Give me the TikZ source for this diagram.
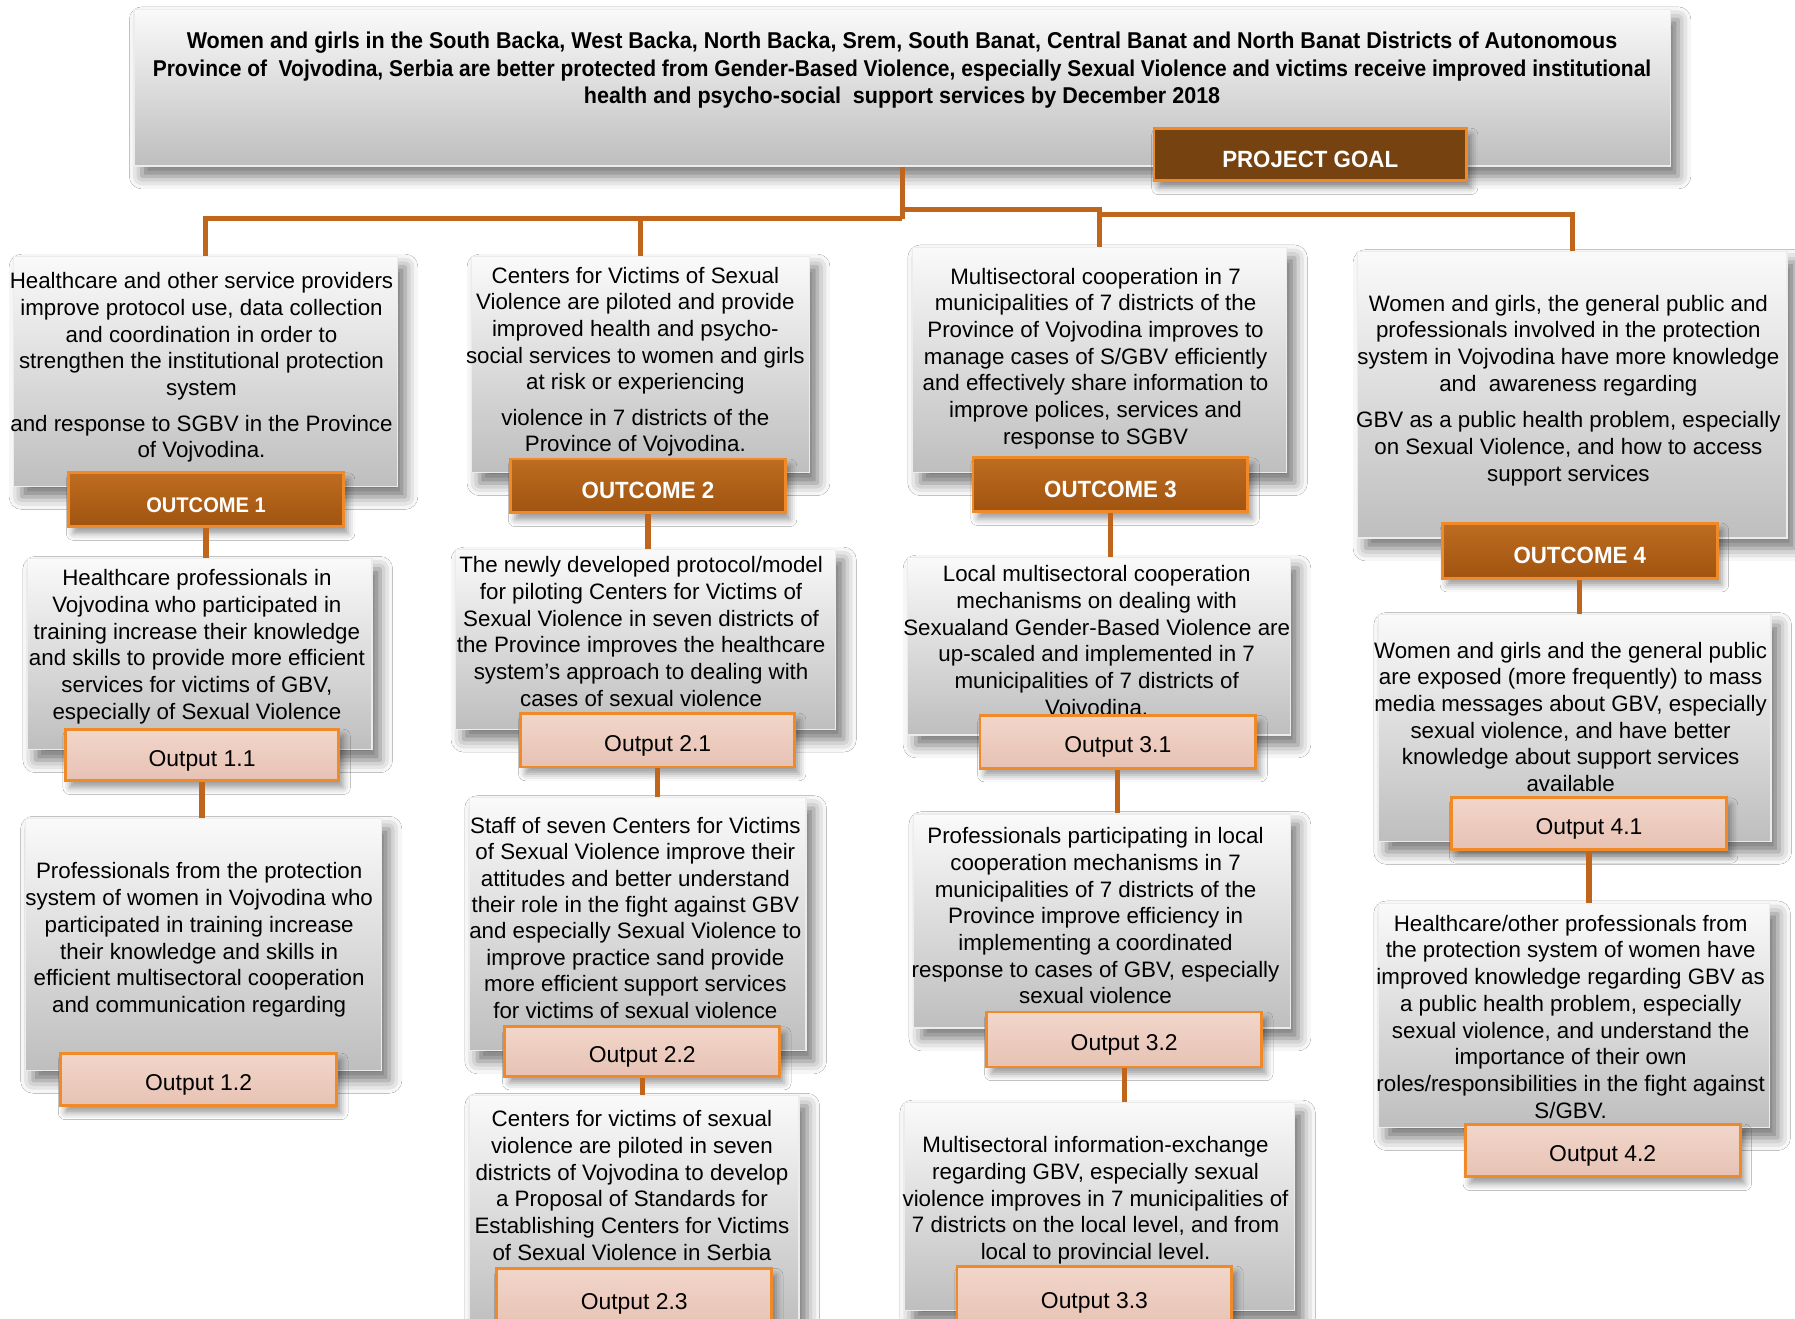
\documentclass[tikz,border=0pt]{standalone}
\usepackage{fontspec}
\setmainfont{Liberation Sans}
\newfontfamily\condb[FakeStretch=0.94]{Liberation Sans}
\newfontfamily\labfont[FakeStretch=0.95]{Liberation Sans}
\usetikzlibrary{shadows.blur}
\definecolor{conn}{RGB}{192,102,28}
\definecolor{edgeor}{RGB}{240,138,40}
\definecolor{boxtop}{RGB}{250,250,250}
\definecolor{boxbot}{RGB}{190,190,190}
\definecolor{outtop}{RGB}{190,108,32}
\definecolor{outbot}{RGB}{160,84,16}
\definecolor{goalfill}{RGB}{118,66,16}
\definecolor{optop}{RGB}{242,214,202}
\definecolor{opbot}{RGB}{230,194,180}
\tikzset{
  box/.style={rectangle, inner sep=0pt, draw={rgb,255:red,236;green,236;blue,236}, line width=1pt,
    top color=boxtop, bottom color=boxbot,
    blur shadow={shadow xshift=7pt, shadow yshift=-9pt, shadow blur radius=11pt, shadow opacity=55}},
  txt/.style={inner sep=0pt, align=center, font=\fontsize{19.5}{23.3}\selectfont,
    execute at begin node=\strut, execute at end node=\strut},
  outcomelab/.style={rectangle, inner sep=0pt, minimum width=240pt, minimum height=47pt,
    text height=22pt, text depth=0pt,
    draw=edgeor, line width=2.5pt, top color=outtop, bottom color=outbot, text=white,
    font=\labfont\bfseries\fontsize{20.5}{24}\selectfont,
    blur shadow={shadow xshift=4pt, shadow yshift=-6pt, shadow blur radius=6pt, shadow opacity=40}},
  goallab/.style={rectangle, inner sep=0pt, minimum width=273pt, minimum height=46pt,
    text height=22pt, text depth=0pt,
    draw=edgeor, line width=2.5pt, fill=goalfill, text=white,
    font=\labfont\bfseries\fontsize{20.5}{24}\selectfont,
    blur shadow={shadow xshift=4pt, shadow yshift=-6pt, shadow blur radius=6pt, shadow opacity=40}},
  outputlab/.style={rectangle, inner sep=0pt, minimum width=240pt, minimum height=46pt,
    text height=19.5pt, text depth=0pt,
    draw=edgeor, line width=2.5pt, top color=optop, bottom color=opbot, text=black,
    font=\fontsize{20}{24}\selectfont,
    blur shadow={shadow xshift=4pt, shadow yshift=-6pt, shadow blur radius=6pt, shadow opacity=40}},
  link/.style={draw=conn, line width=4.5pt}
}
\begin{document}
\begin{tikzpicture}[x=1pt,y=-1pt]
\fill[white] (0,0) rectangle (1568,1152);
\clip (0,0) rectangle (1568,1152);
\useasboundingbox (0,0) rectangle (1568,1152);

% ---------- goal ----------
\node[box, minimum width=1342pt, minimum height=137pt] (goal) at (788,76.5) {};
\node[inner sep=0pt, align=center, font=\condb\bfseries\fontsize{20}{24}\selectfont,
  execute at begin node=\strut, execute at end node=\strut] (goaltxt) at (788,63)
  {Women and girls in the South Backa, West Backa, North Backa, Srem, South Banat, Central Banat and North Banat Districts of Autonomous\\
   \scalebox{0.975}[1]{Province of \ Vojvodina, Serbia are better protected from Gender-Based Violence, especially Sexual Violence and victims receive improved institutional}\\
   health and psycho-social \ support services by December 2018};
\node[goallab] (goallbl) at (1144.5,135) {PROJECT GOAL};

% ---------- outcome boxes ----------
\node[box, minimum width=335pt, minimum height=201pt] (oc1) at (179.5,324.5) {};
\node[txt] (oc1t) at (176,322.5) {Healthcare and other service providers\\improve protocol use, data collection\\and coordination in order to\\strengthen the institutional protection\\system\\[7.7pt]and response to SGBV in the Province\\of Vojvodina.};
\node[outcomelab, font=\labfont\bfseries\fontsize{18.5}{24}\selectfont] (oc1l) at (180,436.5) {OUTCOME 1};

\node[box, minimum width=295pt, minimum height=189pt] (oc2) at (559.5,318.5) {};
\node[txt] (oc2t) at (555,317.5) {Centers for Victims of Sexual\\Violence are piloted and provide\\improved health and psycho-\\social services to women and girls\\at risk or experiencing\\[7.7pt]violence in 7 districts of the\\Province of Vojvodina.};
\node[outcomelab] (oc2l) at (566,424.5) {OUTCOME 2};

\node[box, minimum width=327pt, minimum height=197pt] (oc3) at (960.5,314.5) {};
\node[txt] (oc3t) at (957,314.5) {Multisectoral cooperation in 7\\municipalities of 7 districts of the\\Province of Vojvodina improves to\\manage cases of S/GBV efficiently\\and effectively share information to\\improve polices, services and\\response to SGBV};
\node[outcomelab] (oc3l) at (970,423.5) {OUTCOME 3};

\node[box, minimum width=375pt, minimum height=250pt] (oc4) at (1373.5,345) {};
\node[txt] (oc4t) at (1370,342.5) {Women and girls, the general public and\\professionals involved in the protection\\system in Vojvodina have more knowledge\\and \ awareness regarding\\[8.7pt]GBV as a public health problem, especially\\on Sexual Violence, and how to access\\support services};
\node[outcomelab, minimum height=48pt] (oc4l) at (1380,481) {OUTCOME 4};

% ---------- outputs column 1 ----------
\node[box, minimum width=301pt, minimum height=167pt] (op11) at (174.5,571.5) {};
\node[txt] (op11t) at (172,566.5) {Healthcare professionals in\\Vojvodina who participated in\\training increase their knowledge\\and skills to provide more efficient\\services for victims of GBV,\\especially of Sexual Violence};
\node[outputlab, minimum width=239pt, minimum height=45pt] (op11l) at (176.5,659.5) {Output 1.1};

\node[box, minimum width=311pt, minimum height=220pt] (op12) at (177.5,825) {};
\node[txt] (op12t) at (174,822.5) {Professionals from the protection\\system of women in Vojvodina who\\participated in training increase\\their knowledge and skills in\\efficient multisectoral cooperation\\and communication regarding};
\node[outputlab, minimum width=241pt] (op12l) at (173.5,943) {Output 1.2};

% ---------- outputs column 2 ----------
\node[box, minimum width=332pt, minimum height=157pt] (op21) at (564,558.5) {};
\node[txt] (op21t) at (560,555) {The newly developed protocol/model\\for piloting Centers for Victims of\\Sexual Violence in seven districts of\\the Province improves the healthcare\\system’s approach to dealing with\\cases of sexual violence};
\node[outputlab, minimum width=239pt, minimum height=47pt] (op21l) at (574.5,646.5) {Output 2.1};

\node[box, minimum width=294pt, minimum height=221pt] (op22) at (557,807.5) {};
\node[txt, font=\fontsize{19.5}{23.1}\selectfont] (op22t) at (555,805) {Staff of seven Centers for Victims\\of Sexual Violence improve their\\attitudes and better understand\\their role in the fight against GBV\\and especially Sexual Violence to\\improve practice sand provide\\more efficient support services\\for victims of sexual violence};
\node[outputlab, minimum height=43pt] (op22l) at (561,918.5) {Output 2.2};

\node[box, minimum width=288pt, minimum height=203pt] (op23) at (554,1058.5) {};
\node[txt] (op23t) at (552,1039) {Centers for victims of sexual\\violence are piloted in seven\\districts of Vojvodina to develop\\a Proposal of Standards for\\Establishing Centers for Victims\\of Sexual Violence in Serbia};
\node[outputlab, minimum height=52pt] (op23l) at (554,1134) {Output 2.3};

% ---------- outputs column 3 ----------
\node[box, minimum width=334pt, minimum height=155pt] (op31) at (960,564.5) {};
\node[txt] (op31t) at (958,563) {Local multisectoral cooperation\\mechanisms on dealing with\\Sexualand Gender-Based Violence are\\up-scaled and implemented in 7\\municipalities of 7 districts of\\Vojvodina.};
\node[outputlab, minimum width=241pt] (op31l) at (976.5,648) {Output 3.1};

\node[box, minimum width=329pt, minimum height=187pt] (op32) at (962.5,804.5) {};
\node[txt] (op32t) at (957,803.5) {Professionals participating in local\\cooperation mechanisms in 7\\municipalities of 7 districts of the\\Province improve efficiency in\\implementing a coordinated\\response to cases of GBV, especially\\sexual violence};
\node[outputlab, minimum height=48pt] (op32l) at (982,908) {Output 3.2};

\node[box, minimum width=341pt, minimum height=182pt] (op33) at (960.5,1054) {};
\node[txt] (op33t) at (957,1050) {Multisectoral information-exchange\\regarding GBV, especially sexual\\violence improves in 7 municipalities of\\7 districts on the local level, and from\\local to provincial level.};
\node[outputlab, minimum height=54pt] (op33l) at (956,1133) {Output 3.3};

% ---------- outputs column 4 ----------
\node[box, minimum width=343pt, minimum height=198pt] (op41) at (1375.5,636) {};
\node[txt] (op41t) at (1372,629.5) {Women and girls and the general public\\are exposed (more frequently) to mass\\media messages about GBV, especially\\sexual violence, and have better\\knowledge about support services\\available};
\node[outputlab, minimum height=45pt] (op41l) at (1388,719.5) {Output 4.1};

\node[box, minimum width=342pt, minimum height=196pt] (op42) at (1375,887) {};
\node[txt] (op42t) at (1372,891.5) {Healthcare/other professionals from\\the protection system of women have\\improved knowledge regarding GBV as\\a public health problem, especially\\sexual violence, and understand the\\importance of their own\\roles/responsibilities in the fight against\\S/GBV.};
\node[outputlab] (op42l) at (1400,1005) {Output 4.2};

% ---------- connectors ----------
\coordinate (jc) at (788,191);
\coordinate (jr) at (788,183);
\coordinate (jr2) at (962,187);
\draw[link] (goal.south) -- (jc);
\draw[link] (jc) -| (oc1.north);
\draw[link] (jc) -| (oc2.north);
\draw[link] (jr) -| (oc3.north);
\draw[link] (jr2) -| (oc4.north);

\draw[link] (oc1l.south) -- (oc1l.south |- op11.north);
\draw[link] (op11l.south) -- (op11l.south |- op12.north);
\draw[link] (oc2l.south) -- (oc2l.south |- op21.north);
\draw[link] (op21l.south) -- (op21l.south |- op22.north);
\draw[link] (op22l.south) -- (op22l.south |- op23.north);
\draw[link] (oc3l.south) -- (oc3l.south |- op31.north);
\draw[link] (op31l.south) -- (op31l.south |- op32.north);
\draw[link] (op32l.south) -- (op32l.south |- op33.north);
\draw[link] (oc4l.south) -- (oc4l.south |- op41.north);
\draw[link] (op41l.south) -- (op41l.south |- op42.north);
\end{tikzpicture}
\end{document}
